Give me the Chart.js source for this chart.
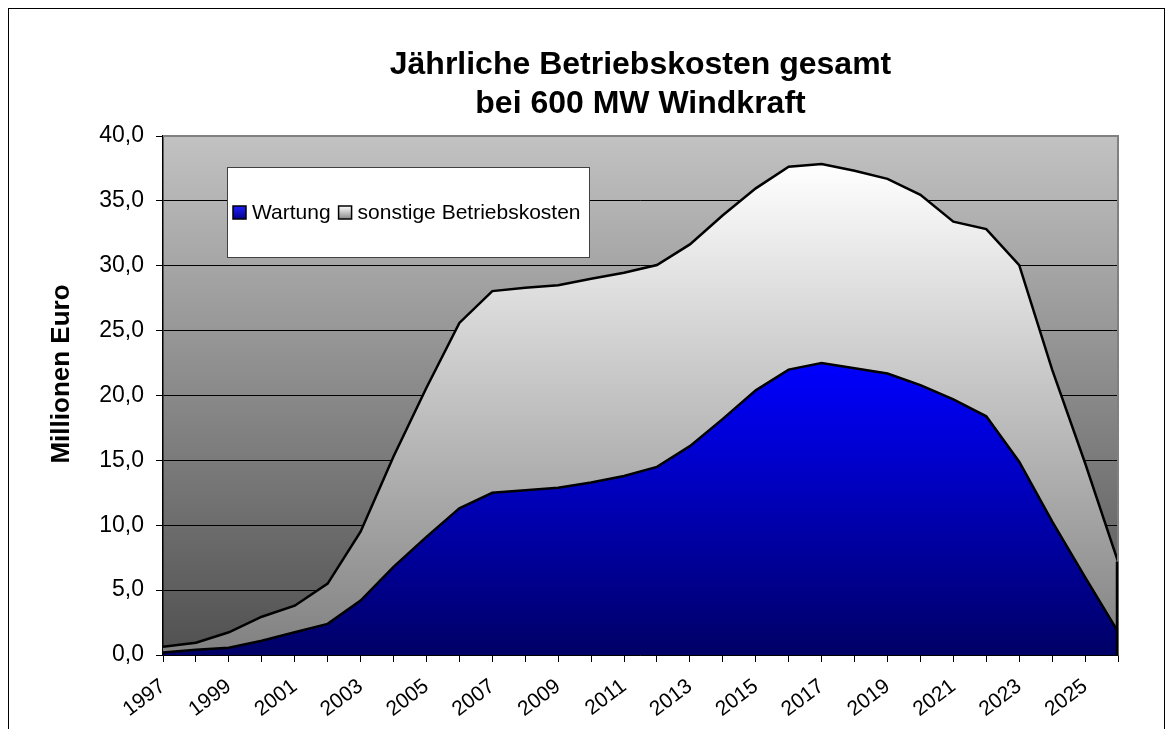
<!DOCTYPE html>
<html>
<head>
<meta charset="utf-8">
<title>Betriebskosten Windkraft</title>
<script src="https://cdn.jsdelivr.net/npm/chart.js@4.4.1/dist/chart.umd.min.js"></script>
<style>
  html, body { margin: 0; padding: 0; background: #fff; }
  #wrap { position: relative; width: 1172px; height: 729px; overflow: hidden; }
  #frame { position: absolute; left: 8px; top: 8px; width: 1155px; height: 760px; border: 1px solid #000; }
  canvas { position: absolute; left: 0; top: 0; }
</style>
</head>
<body>
<div id="wrap">
  <div id="frame"></div>
  <canvas id="costChart" width="1172" height="729"></canvas>
</div>
<script>
/* ===== DATEN ===== */
const years = ["1997", "1998", "1999", "2000", "2001", "2002", "2003", "2004", "2005", "2006",
               "2007", "2008", "2009", "2010", "2011", "2012", "2013", "2014", "2015", "2016",
               "2017", "2018", "2019", "2020", "2021", "2022", "2023", "2024", "2025", "2026"];

// Mio. Euro
const wartung = [0.2, 0.4, 0.56, 1.1, 1.75, 2.4, 4.2, 6.8, 9.1, 11.3,
                 12.5, 12.7, 12.9, 13.3, 13.8, 14.5, 16.1, 18.2, 20.4, 22.0,
                 22.5, 22.1, 21.7, 20.8, 19.7, 18.4, 14.9, 10.3, 6.0, 1.8];

const sonstige = [0.44, 0.55, 1.19, 1.85, 2.05, 3.1, 5.3, 8.5, 11.5, 14.3,
                  15.55, 15.6, 15.6, 15.7, 15.66, 15.56, 15.55, 15.7, 15.57, 15.64,
                  15.34, 15.23, 15.0, 14.67, 13.7, 14.43, 15.16, 11.7, 8.8, 5.4];

const yTickLabels = ["0,0", "5,0", "10,0", "15,0", "20,0", "25,0", "30,0", "35,0", "40,0"];
const yTitle = "Millionen Euro";

const FONT = 'Arial, "Liberation Sans", sans-serif';

/* ===== FARBVERLAEUFE ===== */
function areaGradient(chart, topValue, from, to) {
  const area = chart.chartArea;
  if (!area) return from;
  const yTop = chart.scales.y.getPixelForValue(topValue);
  const g = chart.ctx.createLinearGradient(0, yTop, 0, area.bottom);
  g.addColorStop(0, from);
  g.addColorStop(1, to);
  return g;
}

const totals = wartung.map((w, i) => w + sonstige[i]);

/* ===== PLUGINS ===== */
const plotBackground = {
  id: "plotBackground",
  beforeDraw(chart) {
    const { ctx, chartArea: a } = chart;
    const g = ctx.createLinearGradient(0, a.top, 0, a.bottom);
    g.addColorStop(0, "#c2c2c2");
    g.addColorStop(1, "#505050");
    ctx.save();
    ctx.fillStyle = g;
    ctx.fillRect(a.left, a.top, a.right - a.left, a.bottom - a.top);
    ctx.restore();
  },
  afterDatasetsDraw(chart) {
    const { ctx, chartArea: a, scales } = chart;
    ctx.save();
    ctx.strokeStyle = "#808080";
    ctx.lineWidth = 2;
    ctx.beginPath();
    ctx.moveTo(a.left, a.top);
    ctx.lineTo(a.right, a.top);
    ctx.lineTo(a.right, a.bottom);
    ctx.stroke();
    // rechter Abschluss der Flaechen
    ctx.strokeStyle = "#000";
    ctx.lineWidth = 2.5;
    ctx.beginPath();
    ctx.moveTo(a.right - 1, scales.y.getPixelForValue(0));
    ctx.lineTo(a.right - 1, scales.y.getPixelForValue(totals[totals.length - 1]));
    ctx.stroke();
    ctx.restore();
  }
};

const axisTitle = {
  id: "axisTitle",
  afterDraw(chart) {
    const ctx = chart.ctx;
    ctx.save();
    ctx.translate(62, 374);
    ctx.rotate(-Math.PI / 2);
    ctx.font = "bold 26px " + FONT;
    ctx.fillStyle = "#000";
    ctx.textAlign = "center";
    ctx.textBaseline = "middle";
    ctx.fillText(yTitle, 0, 0);
    ctx.restore();
  }
};

const innerLegend = {
  id: "innerLegend",
  afterDraw(chart) {
    const ctx = chart.ctx;
    const box = { x: 227, y: 167, w: 362, h: 90 };
    ctx.save();
    ctx.fillStyle = "#fff";
    ctx.fillRect(box.x, box.y, box.w, box.h);
    ctx.strokeStyle = "#404040";
    ctx.lineWidth = 1;
    ctx.strokeRect(box.x + 0.5, box.y + 0.5, box.w, box.h);

    ctx.font = "21px " + FONT;
    ctx.textBaseline = "middle";
    const cy = box.y + 46;
    const swatches = [["#2020ff", "#000080"], ["#ffffff", "#808080"]];
    let x = box.x + 6;
    chart.data.datasets.forEach((ds, i) => {
      const g = ctx.createLinearGradient(0, cy - 7, 0, cy + 7);
      g.addColorStop(0, swatches[i][0]);
      g.addColorStop(1, swatches[i][1]);
      ctx.fillStyle = g;
      ctx.fillRect(x, cy - 7, 13, 13);
      ctx.strokeStyle = "#000";
      ctx.lineWidth = 1.5;
      ctx.strokeRect(x, cy - 7, 13, 13);
      ctx.fillStyle = "#000";
      ctx.fillText(ds.label, x + 19, cy);
      x += 19 + ctx.measureText(ds.label).width + 8;
    });
    ctx.restore();
  }
};

/* ===== DIAGRAMM ===== */
new Chart(document.getElementById("costChart"), {
  type: "line",
  data: {
    labels: years,
    datasets: [
      {
        label: "Wartung",
        data: wartung,
        borderColor: "#000",
        borderWidth: 2.5,
        pointRadius: 0,
        tension: 0,
        fill: "origin",
        backgroundColor: c => areaGradient(c.chart, Math.max(...wartung), "#0000ff", "#000066")
      },
      {
        label: "sonstige Betriebskosten",
        data: sonstige,
        borderColor: "#000",
        borderWidth: 2.5,
        pointRadius: 0,
        tension: 0,
        fill: "-1",
        backgroundColor: c => areaGradient(c.chart, Math.max(...totals), "#ffffff", "#808080")
      }
    ]
  },
  options: {
    responsive: false,
    animation: false,
    events: [],
    layout: { padding: { top: 0, right: 54, bottom: 0, left: 0 } },
    plugins: {
      legend: { display: false },
      tooltip: { enabled: false },
      title: {
        display: true,
        fullSize: false,
        text: ["Jährliche Betriebskosten gesamt", "bei 600 MW Windkraft"],
        color: "#000",
        font: { family: FONT, size: 32, weight: "bold", lineHeight: 1.22 },
        padding: { top: 46, bottom: 12 }
      }
    },
    scales: {
      x: {
        stacked: true,
        ticks: {
          autoSkip: false,
          minRotation: 37,
          maxRotation: 37,
          color: "#000",
          padding: 12,
          font: { family: FONT, size: 21 },
          callback: (v, i) => (i % 2 === 0 ? years[i] : "")
        },
        grid: { drawOnChartArea: false, tickLength: 7, color: "#000" },
        border: { color: "#000", width: 1.5 },
        afterFit: s => { s.height = 74; }
      },
      y: {
        stacked: true,
        min: 0,
        max: 40,
        ticks: {
          stepSize: 5,
          color: "#000",
          padding: 12,
          font: { family: FONT, size: 23 },
          callback: (v, i) => yTickLabels[i]
        },
        grid: { color: "#000", lineWidth: 1, tickLength: 7, tickColor: "#000" },
        border: { color: "#000", width: 1.5 },
        afterFit: s => { s.width = 163; }
      }
    }
  },
  plugins: [plotBackground, axisTitle, innerLegend]
});
</script>
</body>
</html>
